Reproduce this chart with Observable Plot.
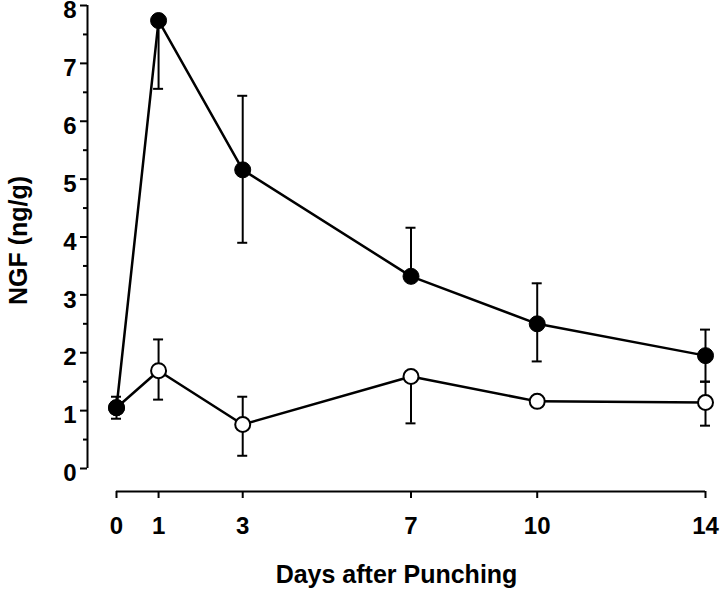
<!DOCTYPE html>
<html>
<head>
<meta charset="utf-8">
<script src="https://cdn.jsdelivr.net/npm/d3@7"></script>
<script src="https://cdn.jsdelivr.net/npm/@observablehq/plot@0.6"></script>
<style>
  html, body { margin: 0; padding: 0; background: #fff; }
  #chart { width: 720px; height: 591px; }
</style>
</head>
<body>
<div id="chart"></div>
<script>
// ---- data ----
const days = [0, 1, 3, 7, 10, 14];
const punched   = [1.05, 7.74, 5.16, 3.32, 2.50, 1.95];
const punchedHi = [1.24, null, 6.44, 4.16, 3.20, 2.40];
const punchedLo = [0.86, 6.56, 3.90, null, 1.85, 1.50];
const control   = [1.05, 1.69, 0.76, 1.59, 1.16, 1.14];
const controlHi = [null, 2.23, 1.24, null, 1.24, 1.50];
const controlLo = [null, 1.19, 0.22, 0.78, 1.08, 0.74];
const yMajorTicks = [0, 1, 2, 3, 4, 5, 6, 7, 8];
const yMinorTicks = [0.5, 1.5, 2.5, 3.5, 4.5, 5.5, 6.5, 7.5];
const xTicks = [0, 1, 3, 7, 10, 14];
const xTitle = "Days after Punching";
const yTitle = "NGF (ng/g)";

// ---- tables built from the arrays ----
const pts = (vals) => days.map((d, i) => ({day: d, v: vals[i]}));
const bars = (vals, ends) => days.map((d, i) => ({day: d, v: vals[i], end: ends[i]})).filter(r => r.end != null);

const punchedPts = pts(punched);
const controlPts = pts(control);
const errs = [
  ...bars(punched, punchedHi), ...bars(punched, punchedLo),
  ...bars(control, controlHi), ...bars(control, controlLo)
];

const FONT = "'Liberation Sans', Arial, Helvetica, sans-serif";
const GAP_X = 29, GAP_Y = 23;

const chart = Plot.plot({
  width: 720,
  height: 591,
  marginLeft: 87,
  marginRight: 15,
  marginTop: 5,
  marginBottom: 100,
  x: {domain: [0, 14], insetLeft: GAP_X},
  y: {domain: [0, 8], insetBottom: GAP_Y},
  style: {fontFamily: FONT, fontWeight: "bold", fontSize: "24px", color: "#000", background: "#fff"},
  marks: [
    // axis lines
    Plot.ruleX([0], {y1: 0, y2: 8, dx: -GAP_X, strokeWidth: 2, stroke: "#000"}),
    Plot.ruleY([0], {x1: 0, x2: 14, dy: GAP_Y, strokeWidth: 2, stroke: "#000"}),
    // y ticks (major + minor) and labels
    Plot.axisY({ticks: yMajorTicks, tickSize: 7, strokeWidth: 2, label: null, tickFormat: () => ""}),
    Plot.axisY({ticks: yMinorTicks, tickSize: 4, strokeWidth: 2, label: null, tickFormat: () => ""}),
    Plot.axisY({ticks: yMajorTicks, tickSize: 0, tickPadding: 11, dy: 5, fontSize: 24, fontWeight: "bold", label: null, tickFormat: d => String(d)}),
    // x ticks and labels
    Plot.axisX({ticks: xTicks, tickSize: 7, tickPadding: 18, strokeWidth: 2, fontSize: 24, fontWeight: "bold", label: null, tickFormat: d => String(d)}),
    // titles
    Plot.text([xTitle], {text: d => d, frameAnchor: "bottom", dy: 83, fontSize: 25, fontWeight: "bold", lineAnchor: "middle", textAnchor: "middle"}),
    Plot.text([yTitle], {text: d => d, frameAnchor: "left", rotate: -90, dx: -69, dy: -8, fontSize: 25, fontWeight: "bold", lineAnchor: "middle", textAnchor: "middle"}),
    // lines
    Plot.line(controlPts, {x: "day", y: "v", stroke: "#000", strokeWidth: 2.5}),
    Plot.line(punchedPts, {x: "day", y: "v", stroke: "#000", strokeWidth: 2.5}),
    // error bars
    Plot.ruleX(errs, {x: "day", y1: "v", y2: "end", stroke: "#000", strokeWidth: 2}),
    Plot.ruleY(errs, {y: "end", x1: "day", x2: "day", insetLeft: -5, insetRight: -5, stroke: "#000", strokeWidth: 2}),
    // points
    Plot.dot(controlPts, {x: "day", y: "v", r: 7.5, fill: "#fff", stroke: "#000", strokeWidth: 2}),
    Plot.dot(punchedPts, {x: "day", y: "v", r: 8, fill: "#000", stroke: "#000", strokeWidth: 1})
  ]
});
document.getElementById("chart").appendChild(chart);
</script>
</body>
</html>
